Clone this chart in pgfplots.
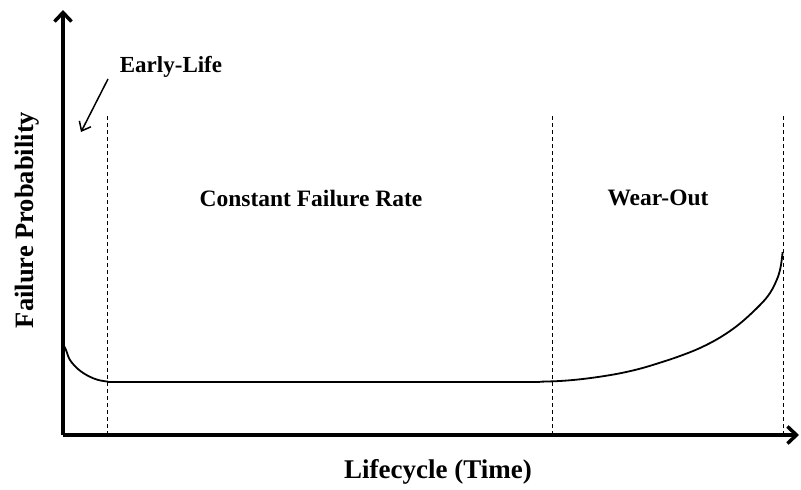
\documentclass[border=0pt]{standalone}
\usepackage{fontspec}
\setmainfont{Liberation Serif}
\usepackage{pgfplots}
\pgfplotsset{compat=1.18}
\usetikzlibrary{arrows.meta}
\begin{document}
\begin{tikzpicture}
\begin{axis}[
  x=1pt, y=1pt,
  xmin=0, xmax=736, ymin=0, ymax=425,
  axis lines=left,
  axis line style={line width=3.5pt, -{Straight Barb[length=9pt,width=17pt,line width=3.5pt]}},
  ticks=none,
  clip=false,
]
\addplot[line width=1.8pt, smooth, tension=0.6] coordinates {
 (1,89) (3,85) (7,75) (15.3,65.7) (25.3,59) (35.3,55) (45.3,53.3)
};
\addplot[line width=1.8pt] coordinates {(45.3,53.3) (477,53.3)};
\addplot[line width=1.8pt, smooth, tension=0.6] coordinates {
 (477,53.3) (497,54) (517,55.7) (537,58.3) (557,61.7) (577,66.3) (597,72.3) (617,79) (637,87) (657,97.5) (677,111.5) (697,130) (707,142) (713.7,155) (717,165) (718.7,175) (719.6,183)
};
\addplot[line width=0.9pt, dash pattern=on 4pt off 3pt] coordinates {(44,0) (44,320)};
\addplot[line width=0.9pt, dash pattern=on 4pt off 3pt] coordinates {(489,0) (489,320)};
\addplot[line width=0.9pt, dash pattern=on 4pt off 3pt] coordinates {(720,0) (720,320)};
\draw[line width=1.5pt, -{Straight Barb[length=8pt,width=13pt,line width=1.5pt]}] (axis cs:45,356) -- (axis cs:18,303);
\node[font=\fontsize{23}{26}\selectfont\bfseries] at (axis cs:108,368) {Early-Life};
\node[font=\fontsize{23.5}{26}\selectfont\bfseries] at (axis cs:248,237) {Constant Failure Rate};
\node[font=\fontsize{23.5}{26}\selectfont\bfseries] at (axis cs:595,237) {Wear-Out};
\node[font=\fontsize{27}{30}\selectfont\bfseries] at (axis cs:375,-37) {Lifecycle (Time)};
\node[font=\fontsize{26.5}{30}\selectfont\bfseries, rotate=90] at (axis cs:-36,215) {Failure Probability};
\path[use as bounding box] (axis cs:-63,-55) rectangle (axis cs:738,435);
\end{axis}
\end{tikzpicture}
\end{document}
